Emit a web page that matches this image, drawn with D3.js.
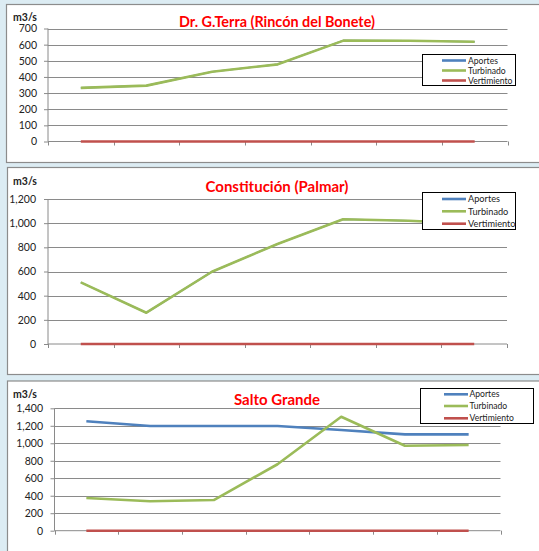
<!DOCTYPE html>
<html><head><meta charset="utf-8">
<script src="https://cdn.jsdelivr.net/npm/d3@7"></script>
<style>
html,body{margin:0;padding:0;background:#dcecf3;}
svg{display:block;}
</style></head>
<body>
<svg id="c" width="539" height="551"></svg>
<script>
// ---- data ----
const categories = ["1", "2", "3", "4", "5", "6", "7"];
const seriesNames = ["Aportes", "Turbinado", "Vertimiento"];
const seriesColors = ["#4f81bd", "#9bbb59", "#c0504d"];

const titles = ["Dr. G.Terra (Rincón del Bonete)", "Constitución (Palmar)", "Salto Grande"];
const unitLabel = "m3/s";

const terraAportes = [332, 346, 432, 478, 625, 624, 618];
const terraTurbinado = [332, 346, 432, 478, 625, 624, 618];
const terraVertimiento = [0, 0, 0, 0, 0, 0, 0];

const palmarAportes = [510, 259, 598, 828, 1032, 1020, 995];
const palmarTurbinado = [510, 259, 598, 828, 1032, 1020, 995];
const palmarVertimiento = [0, 0, 0, 0, 0, 0, 0];

const saltoAportes = [1251, 1197, 1197, 1198, 1152, 1102, 1102];
const saltoTurbinado = [374, 336, 351, 760, 1304, 972, 980];
const saltoVertimiento = [0, 0, 0, 0, 0, 0, 0];

const terraTicks = [0, 100, 200, 300, 400, 500, 600, 700];
const palmarTicks = [0, 200, 400, 600, 800, 1000, 1200];
const saltoTicks = [0, 200, 400, 600, 800, 1000, 1200, 1400];

// ---- layout ----
const panels = [
  {title: titles[0], series: [terraAportes, terraTurbinado, terraVertimiento], ticks: terraTicks,
   box: {x: 6.5, y: 4.5, h: 158}, left: 48, right: 507.5, top: 28.5, bottom: 141.5,
   titleY: 27, titleFont: 14.4, unitY: 20.5, tickRight: 37, tickFont: 10.5,
   legend: {x: 422.5, y: 54.5, w: 93, h: 31, rows: [60.5, 70.5, 80.5], lx1: 442, lx2: 466, tx: 468, font: 8.6}},
  {title: titles[1], series: [palmarAportes, palmarTurbinado, palmarVertimiento], ticks: palmarTicks,
   box: {x: 7.5, y: 167.5, h: 207}, left: 48, right: 507, top: 199, bottom: 344,
   titleY: 192, titleFont: 15, unitY: 185, tickRight: 36, tickFont: 10.5,
   legend: {x: 422.5, y: 192.5, w: 93, h: 37, rows: [199, 211.3, 223.7], lx1: 442, lx2: 466, tx: 468, font: 9.2}},
  {title: titles[2], series: [saltoAportes, saltoTurbinado, saltoVertimiento], ticks: saltoTicks,
   box: {x: 7.5, y: 381, h: 180}, left: 54.5, right: 500.5, top: 408.3, bottom: 530.7,
   titleY: 405, titleFont: 15, unitY: 398, tickRight: 43, tickFont: 10.5,
   legend: {x: 420.5, y: 388.5, w: 113, h: 35, rows: [394.3, 406, 418.3], lx1: 444, lx2: 468, tx: 469.5, font: 8.6}}
];

const svg = d3.select("#c");
const FONT = "Lato, 'Open Sans', sans-serif";

panels.forEach(p => {
  const g = svg.append("g");
  g.append("rect").attr("x", p.box.x).attr("y", p.box.y).attr("width", 560).attr("height", p.box.h)
    .attr("fill", "#ffffff").attr("stroke", "#8c8c8c").attr("stroke-width", 1.2);

  const ymax = p.ticks[p.ticks.length - 1];
  const x = d3.scaleBand().domain(categories).range([p.left, p.right]);
  const y = d3.scaleLinear().domain([0, ymax]).range([p.bottom, p.top]);

  g.append("g").selectAll("line").data(p.ticks.filter(t => t > 0)).join("line")
    .attr("x1", p.left).attr("x2", p.right)
    .attr("y1", d => Math.round(y(d)) + 0.5).attr("y2", d => Math.round(y(d)) + 0.5)
    .attr("stroke", "#8a8a8a").attr("stroke-width", 1);

  const yAxis = d3.axisLeft(y).tickValues(p.ticks).tickSize(4).tickFormat(d3.format(","));
  const ya = g.append("g").attr("transform", `translate(${p.left},0)`).call(yAxis);
  ya.select(".domain").attr("stroke", "#8a8a8a").attr("d", `M-0,${p.bottom}V${p.top}`);
  ya.selectAll(".tick line").attr("stroke", "#8a8a8a");
  ya.selectAll(".tick text").attr("x", p.tickRight - p.left).attr("text-anchor", "end")
    .attr("font-family", FONT).attr("font-size", p.tickFont).attr("fill", "#222");

  const bounds = categories.map(c => x(c)).concat([p.right]);
  const xa = g.append("g");
  xa.append("line").attr("x1", p.left).attr("x2", p.right).attr("y1", p.bottom).attr("y2", p.bottom)
    .attr("stroke", "#8a8a8a");
  xa.selectAll("line.t").data(bounds).join("line").attr("class", "t")
    .attr("x1", d => Math.round(d) + 0.5).attr("x2", d => Math.round(d) + 0.5)
    .attr("y1", p.bottom).attr("y2", p.bottom + 4).attr("stroke", "#8a8a8a");

  const line = d3.line().x((d, i) => x(categories[i]) + x.bandwidth() / 2).y(d => y(d));
  p.series.forEach((s, i) => {
    // a series hidden exactly under a later one is drawn slightly thinner so no fringe shows
    const hidden = p.series.slice(i + 1).some(o => o.every((v, k) => v === s[k]));
    g.append("path").datum(s).attr("d", line).attr("fill", "none")
      .attr("stroke", seriesColors[i]).attr("stroke-width", hidden ? 1.6 : 2.6)
      .attr("stroke-linejoin", "round");
  });

  g.append("text").attr("x", 277).attr("y", p.titleY).attr("text-anchor", "middle")
    .attr("font-family", FONT).attr("font-weight", "bold").attr("font-size", p.titleFont)
    .attr("fill", "#ff0000").text(p.title);

  g.append("text").attr("x", 13).attr("y", p.unitY)
    .attr("font-family", FONT).attr("font-weight", "bold").attr("font-size", 10.5)
    .attr("fill", "#222").text(unitLabel);

  const L = p.legend;
  const lg = g.append("g");
  lg.append("rect").attr("x", L.x).attr("y", L.y).attr("width", L.w).attr("height", L.h)
    .attr("fill", "#fff").attr("stroke", "#000").attr("stroke-width", 1);
  seriesNames.forEach((n, i) => {
    lg.append("line").attr("x1", L.lx1).attr("x2", L.lx2).attr("y1", L.rows[i]).attr("y2", L.rows[i])
      .attr("stroke", seriesColors[i]).attr("stroke-width", 2.6);
    lg.append("text").attr("x", L.tx).attr("y", L.rows[i]).attr("dy", "0.35em")
      .attr("font-family", FONT).attr("font-size", L.font).attr("fill", "#222").text(n);
  });
});
</script>
</body></html>
